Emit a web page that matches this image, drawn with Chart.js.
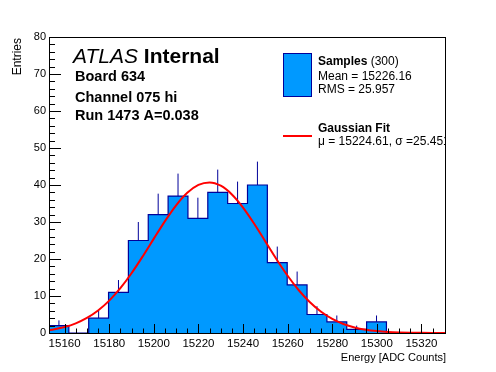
<!DOCTYPE html>
<html>
<head>
<meta charset="utf-8">
<script src="https://cdn.jsdelivr.net/npm/chart.js@4.4.0/dist/chart.umd.min.js"></script>
<style>
  body { margin: 0; background: #fff; }
  canvas { display: block; }
</style>
</head>
<body>
<canvas id="histChart" width="496" height="372"></canvas>
<script>
// histogram binning (20 bins) and contents
const binEdges = [15153.0, 15161.9, 15170.8, 15179.7, 15188.6, 15197.5, 15206.4, 15215.3, 15224.2, 15233.1,
  15242.0, 15250.9, 15259.8, 15268.7, 15277.6, 15286.5, 15295.4, 15304.3, 15313.2, 15322.1, 15331.0];
const counts = [2, 0, 4, 11, 25, 32, 37, 31, 38, 35, 40, 19, 13, 5, 3, 1, 3, 0, 0, 0];
const errors = [1.41, 0, 2, 3.32, 5, 5.66, 6.08, 5.57, 6.16, 5.92, 6.32, 4.36, 3.61, 2.24, 1.73, 1, 1.73, 0, 0, 0];

// gaussian fit curve as drawn
const fitX = [15153, 15155, 15160, 15165, 15170, 15175, 15180, 15185, 15190, 15195, 15200, 15205, 15210,
  15215, 15220, 15225, 15230, 15235, 15240, 15245, 15250, 15255, 15260, 15265, 15270, 15275, 15280,
  15285, 15290, 15295, 15300, 15305, 15310, 15315, 15320, 15325, 15330, 15331];
const fitY = [0.78, 0.97, 1.62, 2.62, 4.07, 6.09, 8.76, 12.12, 16.14, 20.69, 25.50, 30.25, 34.52,
  37.90, 40.04, 40.70, 39.80, 37.45, 33.90, 29.53, 24.75, 19.95, 15.48, 11.55, 8.30, 5.73, 3.81,
  2.44, 1.50, 0.89, 0.51, 0.28, 0.15, 0.07, 0.04, 0.02, 0.01, 0.01];

const xMajor = 20, xMinor = 5;
const yMajor = 10, yMinor = 2;

const textLines = ['Board 634', 'Channel 075 hi', 'Run 1473 A=0.038'];
const legendStats = ['Mean = 15226.16', 'RMS = 25.957'];
const fitText = '\u03bc = 15224.61, \u03c3 =25.451';

const FONT = '"Liberation Sans", Arial, Helvetica, sans-serif';
const FILL = '#0099ff';
const LINE = '#000099';

// step outline + fill
const histData = binEdges.map((e, i) => ({ x: e, y: i < counts.length ? counts[i] : 0 }));

// error bars (upward part only, the rest is under the fill)
const errData = [];
counts.forEach((n, i) => {
  if (n <= 0) return;
  const c = (binEdges[i] + binEdges[i + 1]) / 2;
  errData.push({ x: c, y: n }, { x: c, y: n + errors[i] }, { x: c, y: null });
});

const fitData = fitX.map((x, i) => ({ x: x, y: fitY[i] }));

const rootStyle = {
  id: 'rootStyle',
  afterDatasetsDraw(chart) {
    const { ctx, chartArea: a, scales: { x, y } } = chart;
    ctx.save();
    ctx.strokeStyle = '#000';
    ctx.lineWidth = 1;
    ctx.beginPath();
    x.ticks.forEach(t => {
      if (t.value % xMinor !== 0) return;
      const px = Math.round(x.getPixelForValue(t.value)) + 0.5;
      const len = t.value % xMajor === 0 ? 9 : 4.5;
      ctx.moveTo(px, a.bottom);
      ctx.lineTo(px, a.bottom - len);
    });
    y.ticks.forEach(t => {
      if (t.value % yMinor !== 0) return;
      const py = Math.round(y.getPixelForValue(t.value)) + 0.5;
      const len = t.value % yMajor === 0 ? 12 : 6;
      ctx.moveTo(a.left, py);
      ctx.lineTo(a.left + len, py);
    });
    ctx.stroke();
    ctx.strokeRect(a.left + 0.5, a.top + 0.5, a.right - a.left - 1, a.bottom - a.top);
    ctx.restore();
  },
  afterDraw(chart) {
    const { ctx, chartArea: a } = chart;
    ctx.save();
    ctx.fillStyle = '#000';
    ctx.textBaseline = 'middle';

    // axis titles
    ctx.font = '11px ' + FONT;
    ctx.textAlign = 'right';
    ctx.fillText('Energy [ADC Counts]', a.right, 358);
    ctx.save();
    ctx.translate(18, a.top + 1);
    ctx.rotate(-Math.PI / 2);
    ctx.font = '12px ' + FONT;
    ctx.fillText('Entries', 0, 0);
    ctx.restore();

    // ATLAS label
    ctx.textAlign = 'left';
    ctx.font = 'italic 21px ' + FONT;
    ctx.fillText('ATLAS', 73, 57);
    const w = ctx.measureText('ATLAS ').width;
    ctx.font = 'bold 21px ' + FONT;
    ctx.fillText('Internal', 73 + w, 57);
    ctx.font = 'bold 14.5px ' + FONT;
    const lineY = [77, 98, 115.5];
    textLines.forEach((s, i) => ctx.fillText(s, 75, lineY[i]));

    // legend
    ctx.fillStyle = FILL;
    ctx.fillRect(283, 53, 29, 44);
    ctx.strokeStyle = LINE;
    ctx.lineWidth = 1;
    ctx.strokeRect(283.5, 53.5, 28, 43);
    ctx.strokeStyle = '#ff0000';
    ctx.lineWidth = 2;
    ctx.beginPath();
    ctx.moveTo(283, 136);
    ctx.lineTo(312, 136);
    ctx.stroke();

    ctx.fillStyle = '#000';
    ctx.font = 'bold 12px ' + FONT;
    ctx.fillText('Samples', 318, 62);
    const sw = ctx.measureText('Samples').width;
    ctx.font = '12px ' + FONT;
    ctx.fillText(' (300)', 318 + sw, 62);
    ctx.fillText(legendStats[0], 318, 77);
    ctx.fillText(legendStats[1], 318, 90);
    ctx.font = 'bold 12px ' + FONT;
    ctx.fillText('Gaussian Fit', 318, 129);
    ctx.beginPath();
    ctx.rect(0, 0, a.right, 372);
    ctx.clip();
    ctx.font = '12px ' + FONT;
    ctx.fillText(fitText, 318, 142);
    ctx.restore();
  }
};

const ctx = document.getElementById('histChart').getContext('2d');
const chart = new Chart(ctx, {
  type: 'line',
  data: {
    datasets: [
      {
        data: fitData,
        borderColor: '#ff0000',
        borderWidth: 2,
        pointRadius: 0,
        cubicInterpolationMode: 'monotone',
        fill: false
      },
      {
        data: errData,
        borderColor: LINE,
        borderWidth: 1,
        pointRadius: 0,
        spanGaps: false,
        fill: false
      },
      {
        data: histData,
        stepped: 'before',
        borderColor: LINE,
        borderWidth: 1.2,
        backgroundColor: FILL,
        pointRadius: 0,
        fill: 'origin'
      }
    ]
  },
  options: {
    responsive: false,
    animation: false,
    events: [],
    layout: { padding: { left: 0, top: 37, right: 50, bottom: 0 } },
    plugins: {
      legend: { display: false },
      tooltip: { enabled: false }
    },
    scales: {
      x: {
        type: 'linear',
        min: 15153,
        max: 15331,
        grid: { display: false, drawTicks: false },
        border: { display: false },
        ticks: {
          stepSize: xMinor,
          autoSkip: false,
          maxRotation: 0,
          padding: 4,
          color: '#000',
          font: { family: FONT, size: 11.5 },
          callback: v => (v % xMajor === 0 ? String(v) : '')
        },
        afterFit: s => { s.height = 39; }
      },
      y: {
        min: 0,
        max: 80,
        grid: { display: false, drawTicks: false },
        border: { display: false },
        ticks: {
          stepSize: yMinor,
          autoSkip: false,
          padding: 3,
          color: '#000',
          font: { family: FONT, size: 11 },
          callback: v => (v % yMajor === 0 ? String(v) : '')
        },
        afterFit: s => { s.width = 49; }
      }
    }
  },
  plugins: [rootStyle]
});
</script>
</body>
</html>
